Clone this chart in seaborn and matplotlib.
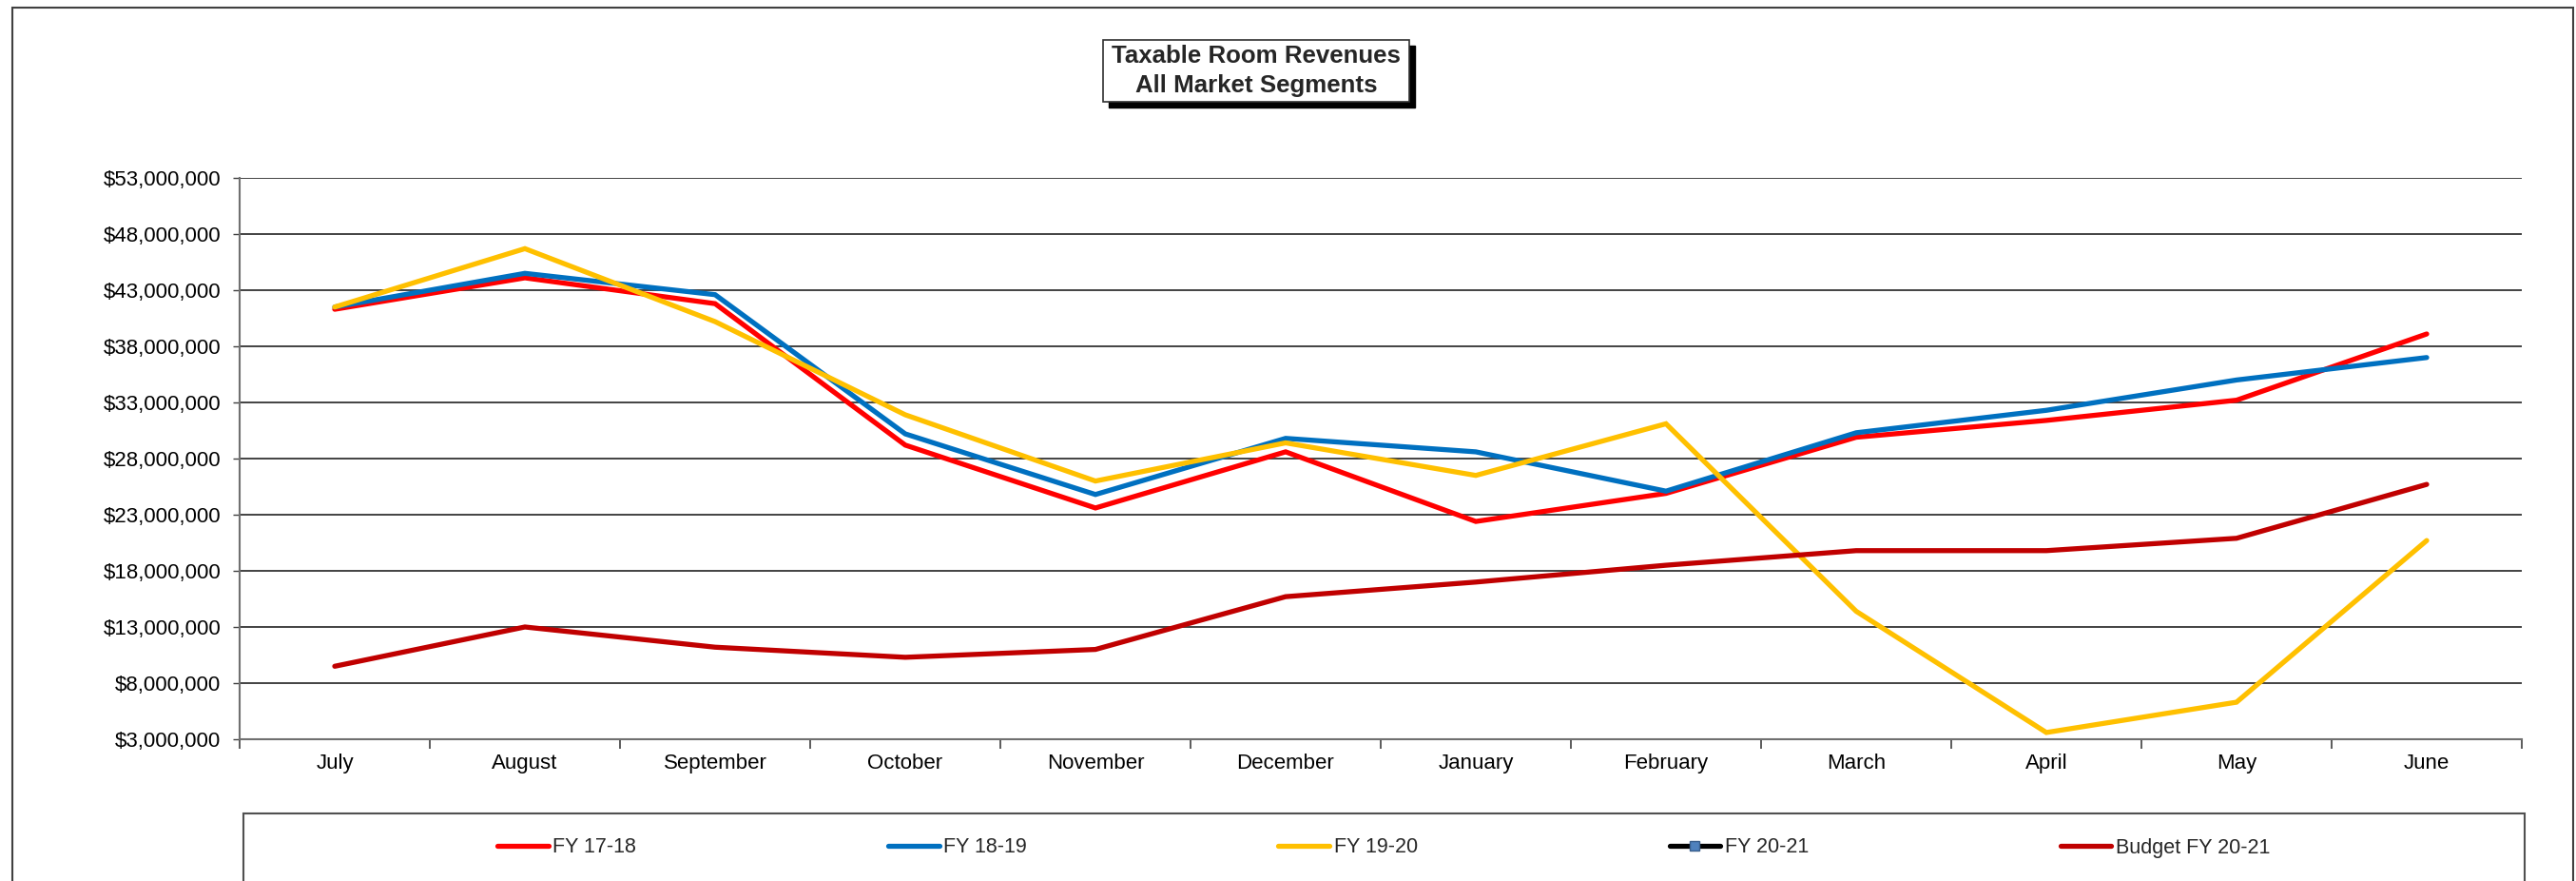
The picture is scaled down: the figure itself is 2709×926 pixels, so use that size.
import numpy as np
import pandas as pd
import seaborn as sns
import matplotlib
matplotlib.use("Agg")
import matplotlib.pyplot as plt
from matplotlib.lines import Line2D
from matplotlib.patches import Rectangle
from matplotlib.ticker import FuncFormatter, FixedLocator

months = ["July", "August", "September", "October", "November", "December",
          "January", "February", "March", "April", "May", "June"]
fy1718 = [41.3, 44.1, 41.8, 29.2, 23.6, 28.6, 22.4, 24.9, 29.9, 31.4, 33.2, 39.1]
fy1819 = [41.5, 44.5, 42.6, 30.2, 24.8, 29.8, 28.6, 25.1, 30.3, 32.3, 35.0, 37.0]
fy1920 = [41.5, 46.7, 40.2, 31.9, 26.0, 29.4, 26.5, 31.1, 14.4, 3.6, 6.3, 20.7]
fy2021 = [np.nan] * 12
budget2021 = [9.5, 13.0, 11.2, 10.3, 11.0, 15.7, 17.0, 18.5, 19.8, 19.8, 20.9, 25.7]

series_names = ["FY 17-18", "FY 18-19", "FY 19-20", "FY 20-21", "Budget FY 20-21"]
series_vals = [fy1718, fy1819, fy1920, fy2021, budget2021]
colors = {"FY 17-18": "#FF0000", "FY 18-19": "#0070C0", "FY 19-20": "#FFC000",
          "FY 20-21": "#000000", "Budget FY 20-21": "#C00000"}
yticks = [3e6 + 5e6 * i for i in range(11)]

rows = []
for name, vals in zip(series_names, series_vals):
    for m, v in zip(months, vals):
        rows.append({"month": m, "series": name, "value": v * 1e6})
df = pd.DataFrame(rows)
plot_df = df.dropna()

sns.set_theme(style="white")
plt.rcParams["font.family"] = ["Liberation Sans", "DejaVu Sans"]

W, H = 2709, 926
fig = plt.figure(figsize=(W / 100, H / 100), dpi=100)
ax = fig.add_axes([252 / W, 1 - 777 / H, 2400 / W, 590 / H])

drawn = [s for s in series_names if s != "FY 20-21"]
sns.lineplot(data=plot_df, x="month", y="value", hue="series", hue_order=drawn,
             palette=colors, sort=False, legend=False, ax=ax, linewidth=3.8,
             estimator=None)
for ln in ax.lines:
    ln.set_solid_capstyle("round")
    ln.set_solid_joinstyle("miter")

ax.set_xlim(-0.5, 11.5)
ax.set_ylim(3e6, 53e6)
ax.set_xlabel("")
ax.set_ylabel("")
ax.set_xticks(range(12))
ax.set_xticklabels(months)
ax.xaxis.set_minor_locator(FixedLocator([k - 0.5 for k in range(13)]))
ax.tick_params(axis="x", which="major", length=0, pad=11, labelsize=16, colors="black")
ax.tick_params(axis="x", which="minor", length=7, width=1.2, color="#404040", direction="out", bottom=True)
ax.set_yticks(yticks)
ax.yaxis.set_major_formatter(FuncFormatter(lambda v, p: f"${v:,.0f}"))
ax.tick_params(axis="y", length=5, width=1.0, color="#404040", pad=9, labelsize=16, left=True, colors="black")
ax.grid(axis="y", color="#101010", linewidth=1.1)
ax.grid(axis="x", visible=False)
ax.set_axisbelow(True)
for s in ["top", "right"]:
    ax.spines[s].set_visible(False)
for s in ["left", "bottom"]:
    ax.spines[s].set_color("#707070")
    ax.spines[s].set_linewidth(1.5)

# outer chart border
fig.patches.append(Rectangle((13 / W, -0.05), (2706 - 13) / W, 1.05 - 8 / H,
                             transform=fig.transFigure, fill=False,
                             edgecolor="#404040", linewidth=1.5, zorder=0))
# legend box
fig.patches.append(Rectangle((256 / W, -0.05), (2655 - 256) / W, 0.05 + 1 - 855 / H,
                             transform=fig.transFigure, fill=False,
                             edgecolor="#505050", linewidth=1.5, zorder=0))
# title box with shadow
bx0, bx1, by0, by1 = 1160, 1482, 42, 107
fig.patches.append(Rectangle(((bx0 + 6) / W, 1 - (by1 + 6) / H), (bx1 - bx0) / W, (by1 - by0) / H,
                             transform=fig.transFigure, facecolor="black", edgecolor="black", zorder=1))
fig.patches.append(Rectangle((bx0 / W, 1 - by1 / H), (bx1 - bx0) / W, (by1 - by0) / H,
                             transform=fig.transFigure, facecolor="white", edgecolor="#303030",
                             linewidth=1.2, zorder=2))
fig.text((bx0 + bx1) / 2 / W, 1 - 59 / H, "Taxable Room Revenues", ha="center", va="center",
         fontsize=18.6, fontweight="bold", zorder=3)
fig.text((bx0 + bx1) / 2 / W, 1 - 90 / H, "All Market Segments", ha="center", va="center",
         fontsize=18.6, fontweight="bold", zorder=3)

handles = []
for name in series_names:
    if name == "FY 20-21":
        h = Line2D([], [], color="black", linewidth=3.8, marker="s", markersize=7,
                   markerfacecolor="#4F81BD", markeredgecolor="#385D8A")
    else:
        h = Line2D([], [], color=colors[name], linewidth=3.8, solid_capstyle="round")
    handles.append(h)
fig.legend(handles, series_names, loc="center left", bbox_to_anchor=(523 / W, 1 - 891 / H),
           ncol=5, frameon=False, fontsize=15.5, handlelength=2.5, handletextpad=0.2,
           columnspacing=12.3, borderaxespad=0, borderpad=0)

fig.savefig("out.png", dpi=100, facecolor="white")
